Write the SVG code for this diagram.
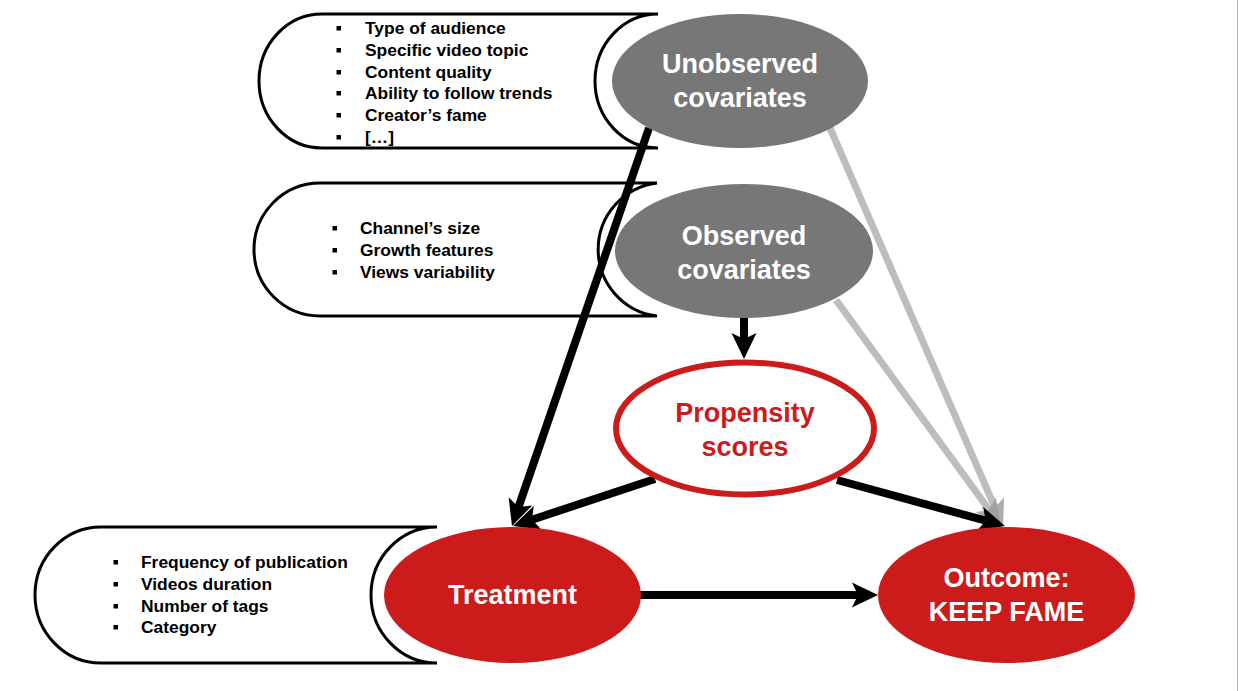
<svg xmlns="http://www.w3.org/2000/svg" width="1238" height="691" viewBox="0 0 1238 691">
<style>
.box{fill:#fff;stroke:#000;stroke-width:3}
.li{font-family:"Liberation Sans",Arial,sans-serif;font-weight:bold;font-size:17.4px;fill:#000}
.bl{fill:#000}
.nt{font-family:"Liberation Sans",Arial,sans-serif;font-weight:bold;font-size:27px;text-anchor:middle}
.w{fill:#fff}
.r{fill:#cc1b1b}
.gray{fill:#777}
.red{fill:#cc1b1b}
.k{stroke:#000;stroke-width:8;fill:none}
.g{stroke:#bdbdbd;stroke-width:7;fill:none}
</style>
<defs>
<marker id="ak" markerUnits="userSpaceOnUse" orient="auto" refX="0" refY="0" markerWidth="60" markerHeight="60" viewBox="-30 -30 60 60" overflow="visible">
<path d="M0,0 L-6,-12.5 L20,0 L-6,12.5 Z" fill="#000"/>
</marker>
<marker id="ag" markerUnits="userSpaceOnUse" orient="auto" refX="0" refY="0" markerWidth="60" markerHeight="60" viewBox="-30 -30 60 60" overflow="visible">
<path d="M0,0 L-6,-12.5 L20,0 L-6,12.5 Z" fill="#9e9e9e" fill-opacity="0.85"/>
</marker>
</defs>
<rect width="1238" height="691" fill="#fff"/>
<line x1="1237.5" y1="0" x2="1237.5" y2="691" stroke="#bbb" stroke-width="1"/>

<g id="list-unobserved">
<path class="box" d="M322,14 H658 A63,67 0 0 0 658,148 H322 A63,67 0 0 1 322,14 Z"/>
<rect class="bl" x="336.5" y="26" width="4.5" height="4.5"/><text class="li" x="365" y="34">Type of audience</text>
<rect class="bl" x="336.5" y="48" width="4.5" height="4.5"/><text class="li" x="365" y="56">Specific video topic</text>
<rect class="bl" x="336.5" y="70" width="4.5" height="4.5"/><text class="li" x="365" y="78">Content quality</text>
<rect class="bl" x="336.5" y="91" width="4.5" height="4.5"/><text class="li" x="365" y="99">Ability to follow trends</text>
<rect class="bl" x="336.5" y="113" width="4.5" height="4.5"/><text class="li" x="365" y="121">Creator’s fame</text>
<rect class="bl" x="336.5" y="135" width="4.5" height="4.5"/><text class="li" x="365" y="143">[…]</text>
</g>

<g id="list-observed">
<path class="box" d="M320,183 H657 A67,67 0 0 0 657,316 H320 A66,66.5 0 0 1 320,183 Z"/>
<rect class="bl" x="332.5" y="226" width="4.5" height="4.5"/><text class="li" x="360" y="234">Channel’s size</text>
<rect class="bl" x="332.5" y="248" width="4.5" height="4.5"/><text class="li" x="360" y="256">Growth features</text>
<rect class="bl" x="332.5" y="270" width="4.5" height="4.5"/><text class="li" x="360" y="278">Views variability</text>
</g>

<g id="list-treatment">
<path class="box" d="M101,527 H437 A66,68 0 0 0 437,663 H101 A66,68 0 0 1 101,527 Z"/>
<rect class="bl" x="113.5" y="560" width="4.5" height="4.5"/><text class="li" x="141" y="568">Frequency of publication</text>
<rect class="bl" x="113.5" y="582" width="4.5" height="4.5"/><text class="li" x="141" y="590">Videos duration</text>
<rect class="bl" x="113.5" y="604" width="4.5" height="4.5"/><text class="li" x="141" y="612">Number of tags</text>
<rect class="bl" x="113.5" y="625" width="4.5" height="4.5"/><text class="li" x="141" y="633">Category</text>
</g>

<g id="connectors">
<line class="g" x1="830" y1="128" x2="995" y2="507.7" marker-end="url(#ag)"/>
<line class="g" x1="836" y1="300" x2="989.2" y2="509.8" marker-end="url(#ag)"/>
<line class="k" x1="649" y1="128" x2="518.5" y2="507.1" marker-end="url(#ak)"/>
<line class="k" x1="744" y1="300" x2="744" y2="339" marker-end="url(#ak)"/>
<line class="k" x1="655" y1="479" x2="532" y2="519.7" marker-end="url(#ak)"/>
<line class="k" x1="837" y1="480" x2="985.7" y2="520.7" marker-end="url(#ak)"/>
<line class="k" x1="640" y1="595" x2="858" y2="595" marker-end="url(#ak)"/>
</g>

<g id="unobserved">
<ellipse class="gray" cx="740" cy="81" rx="128" ry="67"/>
<text class="nt w" x="740" y="73">Unobserved</text>
<text class="nt w" x="740" y="107">covariates</text>
</g>

<g id="observed">
<ellipse class="gray" cx="744" cy="251" rx="129" ry="67"/>
<text class="nt w" x="744" y="245">Observed</text>
<text class="nt w" x="744" y="279">covariates</text>
</g>

<g id="propensity">
<ellipse cx="745" cy="428.5" rx="129" ry="66" fill="#fff" stroke="#cc1b1b" stroke-width="6"/>
<text class="nt r" x="745" y="422">Propensity</text>
<text class="nt r" x="745" y="456">scores</text>
</g>

<g id="treatment">
<ellipse class="red" cx="512.5" cy="595" rx="128.5" ry="68"/>
<text class="nt w" x="512.5" y="604">Treatment</text>
</g>

<g id="outcome">
<ellipse class="red" cx="1006.5" cy="595" rx="128.5" ry="68"/>
<text class="nt w" x="1006.5" y="587">Outcome:</text>
<text class="nt w" x="1006.5" y="621">KEEP FAME</text>
</g>
</svg>
